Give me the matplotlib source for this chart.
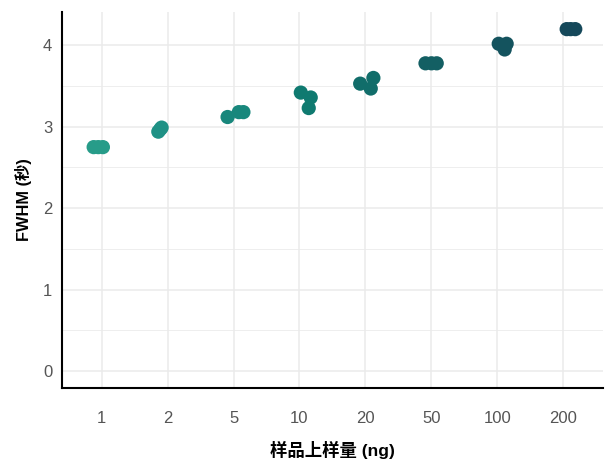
import matplotlib
matplotlib.use("Agg")
import matplotlib.pyplot as plt
import numpy as np

plt.rcParams['font.family'] = ['Liberation Sans', 'Noto Sans CJK SC', 'DejaVu Sans']

categories = ['1', '2', '5', '10', '20', '50', '100', '200']
cat_colors = ['#279c89', '#1f9185', '#18877c', '#0f7a70', '#116d6a', '#135f63', '#14535e', '#15485a']

point_cat = [0, 0, 0, 1, 1, 1, 2, 2, 2, 3, 3, 3, 4, 4, 4, 5, 5, 5, 6, 6, 6, 7, 7, 7]
point_jitter = [-0.12, -0.05, 0.02, -0.14, -0.11, -0.09, -0.09, 0.08, 0.15,
                0.02, 0.17, 0.14, -0.08, 0.12, 0.08, -0.09, 0.0, 0.08,
                0.02, 0.14, 0.11, 0.05, 0.11, 0.18]
fwhm = [2.75, 2.75, 2.75, 2.94, 2.97, 2.99, 3.12, 3.18, 3.18,
        3.42, 3.36, 3.23, 3.53, 3.60, 3.47, 3.78, 3.78, 3.78,
        4.02, 4.02, 3.95, 4.20, 4.20, 4.20]

fig = plt.figure(figsize=(6.06, 4.63), dpi=100)
ax = fig.add_axes([0.1023, 0.162, 0.8927, 0.812])

xpos = np.array(point_cat) + 1 + np.array(point_jitter)
cols = [cat_colors[c] for c in point_cat]
ax.scatter(xpos, fwhm, s=105, c=cols, linewidths=0, zorder=3)

ax.set_xlim(0.4, 8.6)
ax.set_ylim(-0.21, 4.41)
ax.set_xticks(np.arange(1, len(categories) + 1))
ax.set_xticklabels(categories)
ax.set_yticks([0, 1, 2, 3, 4])
ax.set_yticks([0.5, 1.5, 2.5, 3.5], minor=True)

ax.grid(True, which='major', color='#ebebeb', linewidth=1.1, zorder=0)
ax.grid(True, which='minor', axis='y', color='#ebebeb', linewidth=0.6, zorder=0)
ax.set_axisbelow(True)

for s in ['top', 'right']:
    ax.spines[s].set_visible(False)
for s in ['left', 'bottom']:
    ax.spines[s].set_color('black')
    ax.spines[s].set_linewidth(1.5)

ax.tick_params(axis='both', which='both', length=0, labelsize=12, labelcolor='#555555')
ax.tick_params(axis='x', pad=16.5)
ax.tick_params(axis='y', pad=7)

ax.set_xlabel('样品上样量 (ng)', fontsize=12.5, fontweight='bold', labelpad=11)
ax.set_ylabel('FWHM (秒)', fontsize=11.8, fontweight='bold', labelpad=8)

fig.savefig('out.png', dpi=100)
